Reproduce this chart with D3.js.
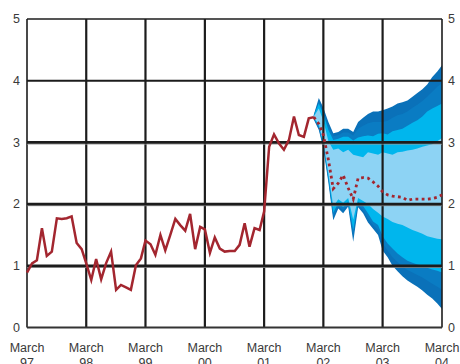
<!DOCTYPE html>
<html><head><meta charset="utf-8">
<script src="https://cdn.jsdelivr.net/npm/d3@7"></script>
<style>body{margin:0;background:#fff}svg{display:block}</style>
</head><body>
<svg id="c" width="460" height="364"></svg>
<script>
// ---- data ----
const yTicks = [0, 1, 2, 3, 4, 5];
const xTickYears = [1997, 1998, 1999, 2000, 2001, 2002, 2003, 2004];
const xTickLabels = ["97", "98", "99", "00", "01", "02", "03", "04"];
// monthly outcome, March 1997 .. January 2002
const actualStart = [1997, 2];
const actual = [0.89,1.04,1.09,1.61,1.16,1.23,1.77,1.76,1.77,1.80,
  1.37,1.27,1.04,0.77,1.11,0.78,1.04,1.23,0.61,0.69,0.65,0.61,
  1.01,1.12,1.41,1.35,1.18,1.50,1.25,1.50,1.76,1.66,1.57,1.84,
  1.27,1.63,1.59,1.21,1.46,1.28,1.23,1.24,1.24,1.34,1.69,1.31,
  1.61,1.58,1.88,2.93,3.13,2.98,2.88,3.04,3.42,3.12,3.09,3.39,
  3.41];
// projection, January 2002 .. March 2004
const projStart = [2002, 0];
const projection = [3.41,3.30,3.12,2.72,2.25,2.34,2.47,2.26,2.08,2.42,2.43,2.42,
  2.36,2.29,2.20,2.15,2.13,2.12,2.11,2.06,2.08,2.08,2.08,2.08,2.09,2.11,2.15];
const q95 = [3.45,3.72,3.56,3.33,3.15,3.17,3.22,3.22,3.17,3.33,3.40,3.46,3.50,3.50,3.52,3.55,3.58,3.63,3.65,3.68,3.74,3.80,3.86,3.94,4.06,4.15,4.25];
const q85 = [3.44,3.67,3.51,3.27,3.10,3.12,3.16,3.16,3.11,3.22,3.27,3.31,3.33,3.33,3.33,3.35,3.40,3.44,3.46,3.50,3.56,3.61,3.67,3.74,3.82,3.90,3.96];
const q75 = [3.43,3.63,3.46,3.20,3.04,3.06,3.09,3.09,3.03,3.08,3.10,3.11,3.10,3.14,3.15,3.13,3.18,3.20,3.22,3.27,3.32,3.36,3.42,3.50,3.55,3.59,3.63];
const q65 = [3.42,3.55,3.35,3.02,2.88,2.90,2.84,2.88,2.80,2.78,2.76,2.84,2.82,2.80,2.84,2.82,2.80,2.84,2.85,2.87,2.88,2.90,2.93,2.95,2.97,3.02,3.07];
const q35 = [3.40,3.30,3.00,2.50,1.96,2.08,2.02,2.10,1.75,2.10,2.05,2.00,1.92,1.86,1.80,1.76,1.71,1.68,1.66,1.62,1.58,1.55,1.52,1.48,1.46,1.44,1.43];
const q25 = [3.39,3.26,2.96,2.44,1.86,2.02,1.95,2.04,1.58,2.04,1.97,1.85,1.72,1.66,1.48,1.36,1.28,1.20,1.14,1.08,1.05,1.02,1.00,0.97,0.94,0.92,0.89];
const q15 = [3.38,3.23,2.93,2.40,1.80,1.97,1.90,2.00,1.48,2.00,1.90,1.77,1.66,1.58,1.36,1.25,1.14,1.06,0.99,0.93,0.89,0.85,0.81,0.76,0.71,0.66,0.61];
const q5  = [3.37,3.20,2.90,2.35,1.74,1.93,1.85,1.96,1.39,1.95,1.85,1.70,1.60,1.50,1.25,1.14,1.00,0.91,0.83,0.76,0.71,0.66,0.60,0.53,0.47,0.39,0.30];
const bandColors = ["#0a71b9", "#0a7cc3", "#00b6ed", "#8dd3f4"];

// ---- chart ----
const svg = d3.select("#c");
const x = d3.scaleTime().domain([new Date(1997,2,1), new Date(2004,2,1)]).range([27,442]);
const y = d3.scaleLinear().domain([0,5]).range([327.5,19]);
const monthDate = (start, i) => new Date(start[0], start[1] + i, 1);

const fanData = q5.map((v,i) => ({d: monthDate(projStart,i), q5:v, q15:q15[i], q25:q25[i], q35:q35[i], q65:q65[i], q75:q75[i], q85:q85[i], q95:q95[i]}));
const bands = [["q5","q95"],["q15","q85"],["q25","q75"],["q35","q65"]];
bands.forEach((b,k) => {
  svg.append("path").datum(fanData)
    .attr("fill", bandColors[k])
    .attr("d", d3.area().x(d=>x(d.d)).y0(d=>y(d[b[0]])).y1(d=>y(d[b[1]])));
});

// grid
const g = svg.append("g");
xTickYears.forEach((yr,i) => {
  const px = x(new Date(yr,2,1));
  const w = (i===0 || i===xTickYears.length-1) ? 1.6 : 2.2;
  g.append("line").attr("x1",px).attr("x2",px).attr("y1",y(5)).attr("y2",y(0))
    .attr("stroke","#1c1c1c").attr("stroke-width",w);
});
yTicks.forEach(t => {
  const py = y(t);
  let w = 2.0, col = "#1c1c1c";
  if (t===1||t===2||t===3) {
    g.append("line").attr("x1",x.range()[0]).attr("x2",x.range()[1]).attr("y1",py+1.6).attr("y2",py+1.6)
      .attr("stroke","#9a9a9a").attr("stroke-width",1);
    w = 2.8;
  }
  if (t===5) w = 1.5;
  if (t===0) { w = 1.8; col = "#333"; }
  g.append("line").attr("x1",x.range()[0]).attr("x2",x.range()[1]).attr("y1",py).attr("y2",py)
    .attr("stroke",col).attr("stroke-width",w);
});

// lines
const actData = actual.map((v,i)=>({d: monthDate(actualStart,i), v}));
const prjData = projection.map((v,i)=>({d: monthDate(projStart,i), v}));
const line = d3.line().x(d=>x(d.d)).y(d=>y(d.v));
svg.append("path").datum(actData).attr("fill","none").attr("stroke","#a3262f")
  .attr("stroke-width",2.5).attr("stroke-linejoin","miter").attr("d",line);
svg.append("path").datum(prjData).attr("fill","none").attr("stroke","#a3262f")
  .attr("stroke-width",2.8).attr("stroke-dasharray","2.8 3.4").attr("d",line);

// labels
const font = "'Liberation Sans', Arial, sans-serif";
yTicks.forEach(t => {
  svg.append("text").attr("x",20).attr("y",y(t)).attr("dy","0.35em")
    .attr("text-anchor","end").attr("font-family",font).attr("font-size",12.5)
    .attr("fill","#3a3a3a").text(t);
  svg.append("text").attr("x",448).attr("y",y(t)).attr("dy","0.35em")
    .attr("text-anchor","start").attr("font-family",font).attr("font-size",12.5)
    .attr("fill","#3a3a3a").text(t);
});
xTickYears.forEach((yr,i) => {
  const px = x(new Date(yr,2,1));
  const t = svg.append("text").attr("text-anchor","middle").attr("font-family",font)
    .attr("font-size",12.5).attr("fill","#3a3a3a");
  t.append("tspan").attr("x",px).attr("y",352).text("March");
  t.append("tspan").attr("x",px).attr("y",367).text(xTickLabels[i]);
});
</script>
</body></html>
